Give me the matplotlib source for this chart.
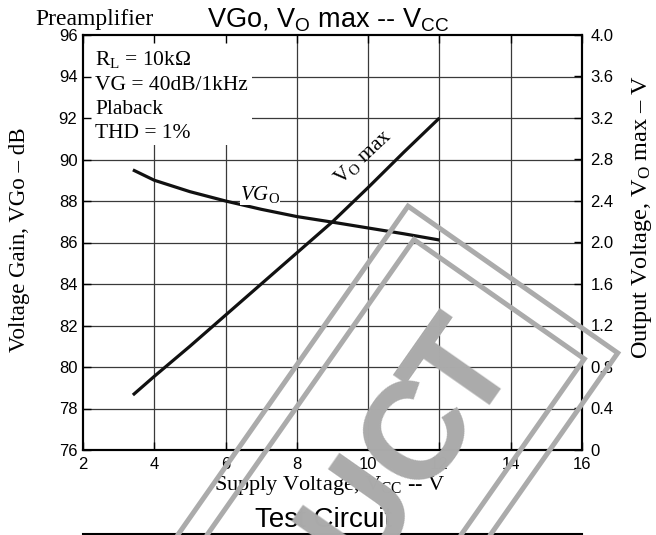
import matplotlib
matplotlib.use('Agg')
import matplotlib.pyplot as plt
from matplotlib.patches import Rectangle
from matplotlib.lines import Line2D
from matplotlib.transforms import Affine2D, IdentityTransform

plt.rcParams['font.family'] = 'Liberation Sans'
plt.rcParams['mathtext.fontset'] = 'custom'
plt.rcParams['mathtext.rm'] = 'Liberation Serif'
plt.rcParams['mathtext.it'] = 'Liberation Serif:italic'
plt.rcParams['mathtext.sf'] = 'Liberation Sans'

# data
vcc = [3.4, 4, 5, 6, 7, 8, 9, 10, 11, 12]
vgo_db = [89.5, 89.0, 88.45, 88.0, 87.6, 87.25, 86.98, 86.7, 86.42, 86.12]
vo_max = [0.53, 0.71, 1.0, 1.30, 1.60, 1.90, 2.20, 2.53, 2.87, 3.20]

x_ticks = [2, 4, 6, 8, 10, 12, 14, 16]
gain_ticks = [76, 78, 80, 82, 84, 86, 88, 90, 92, 94, 96]
vo_ticks = [0, 0.4, 0.8, 1.2, 1.6, 2.0, 2.4, 2.8, 3.2, 3.6, 4.0]
vo_tick_labels = ['0', '0.4', '0.8', '1.2', '1.6', '2.0', '2.4', '2.8', '3.2', '3.6', '4.0']
conditions = [r'$\mathrm{R_L}$ = 10k' + '\u03a9', 'VG = 40dB/1kHz', 'Plaback', 'THD = 1%']

W, H = 656, 535
fig = plt.figure(figsize=(W / 100, H / 100), dpi=100)
ax = fig.add_axes([83 / W, 1 - 450 / H, 499 / W, 415 / H])

# grid drawn by hand so the white note box can sit over it
ax.vlines(x_ticks[1:-1], gain_ticks[0], gain_ticks[-1], color='#3a3a3a', lw=0.9, zorder=0.5)
ax.hlines(gain_ticks[1:-1], x_ticks[0], x_ticks[-1], color='#3a3a3a', lw=0.9, zorder=0.5)
ax.add_patch(Rectangle((2, 90.7), 4.74, 5.3, fc='white', ec='none', zorder=1))

ax.plot(vcc, vgo_db, color='#111111', lw=2.3, zorder=3, solid_capstyle='butt')
ax.set_xlim(2, 16)
ax.set_ylim(76, 96)
ax.set_xticks(x_ticks)
ax.set_yticks(gain_ticks)
ax.tick_params(direction='in', length=6, width=1, top=True, labelsize=12, pad=4)
ax.tick_params(axis='x', pad=5)

ax2 = ax.twinx()
ax2.plot(vcc, vo_max, color='#111111', lw=2.3, zorder=3, solid_capstyle='butt')
ax2.set_ylim(0, 4)
ax2.set_yticks(vo_ticks)
ax2.set_yticklabels(vo_tick_labels)
ax2.tick_params(direction='in', length=6, width=1, labelsize=12, pad=6)

for a in (ax, ax2):
    for s in a.spines.values():
        s.set_linewidth(1.5)

serif = 'Liberation Serif'
for i, line in enumerate(conditions):
    ax.text(0.024, 1 - (65 + 24.5 * i - 35) / 415, line, transform=ax.transAxes,
            family=serif, fontsize=15.5, va='baseline', ha='left', zorder=4)

ax.text(6.41, 88.05, r'VG$_\mathrm{O}$', family=serif, fontsize=15, style='italic',
        va='baseline', ha='left', zorder=4,
        bbox=dict(fc='white', ec='none', pad=0))
ax.text(9.86, 90.12, r'$\mathrm{V_O}$ max', family=serif, fontsize=15.5,
        rotation=43, ha='center', va='center', zorder=4)

fig.text(35 / W, 1 - 25 / H, 'Preamplifier', family=serif, fontsize=17, va='baseline')
fig.text(207 / W, 1 - 27 / H, r'VGo, $\mathsf{V_O}$ max -- $\mathsf{V_{CC}}$',
         fontsize=19.5, va='baseline')
fig.text(19.5 / W, 1 - 240 / H, 'Voltage Gain, VGo \u2013 dB', family=serif, fontsize=16.5,
         rotation=90, ha='center', va='center')
fig.text(641 / W, 1 - 217 / H, r'Output Voltage, $\mathrm{V_O}$ max ' + '\u2013 V',
         family=serif, fontsize=17.5, rotation=90, ha='center', va='center')
fig.text(330 / W, 1 - 490 / H, r'Supply Voltage, $\mathrm{V_{CC}}$ -- V', family=serif,
         fontsize=16, ha='center', va='baseline')
fig.text(255 / W, 1 - 527 / H, 'Test Circuit', fontsize=20, va='baseline')
fig.add_artist(Line2D([83 / W, 582 / W], [0.8 / H, 0.8 / H], color='black', lw=1.5))

# rotated "PRODUCT" stamp over everything, laid out in pixels along its baseline
stamp = Affine2D().rotate_deg(55).translate(495, H - 394)
grey = '#ababab'
fig.add_artist(Rectangle((-800, -77), 904, 256, transform=stamp, fill=False, ec=grey, lw=3.6, zorder=10))
fig.add_artist(Rectangle((-776, -53), 856, 208, transform=stamp, fill=False, ec=grey, lw=3.6, zorder=10))
wm = dict(transform=IdentityTransform(), rotation=55, rotation_mode='anchor', va='baseline',
          fontsize=100, fontweight='bold', color=grey, zorder=11)
px, py = stamp.transform((-23, 5))
fig.text(px, py, 'PRODUC', ha='right', **wm)
px, py = stamp.transform((-43, 0))
fig.text(px, py, 'T', ha='left', **wm)

fig.savefig('out.png', dpi=100)
